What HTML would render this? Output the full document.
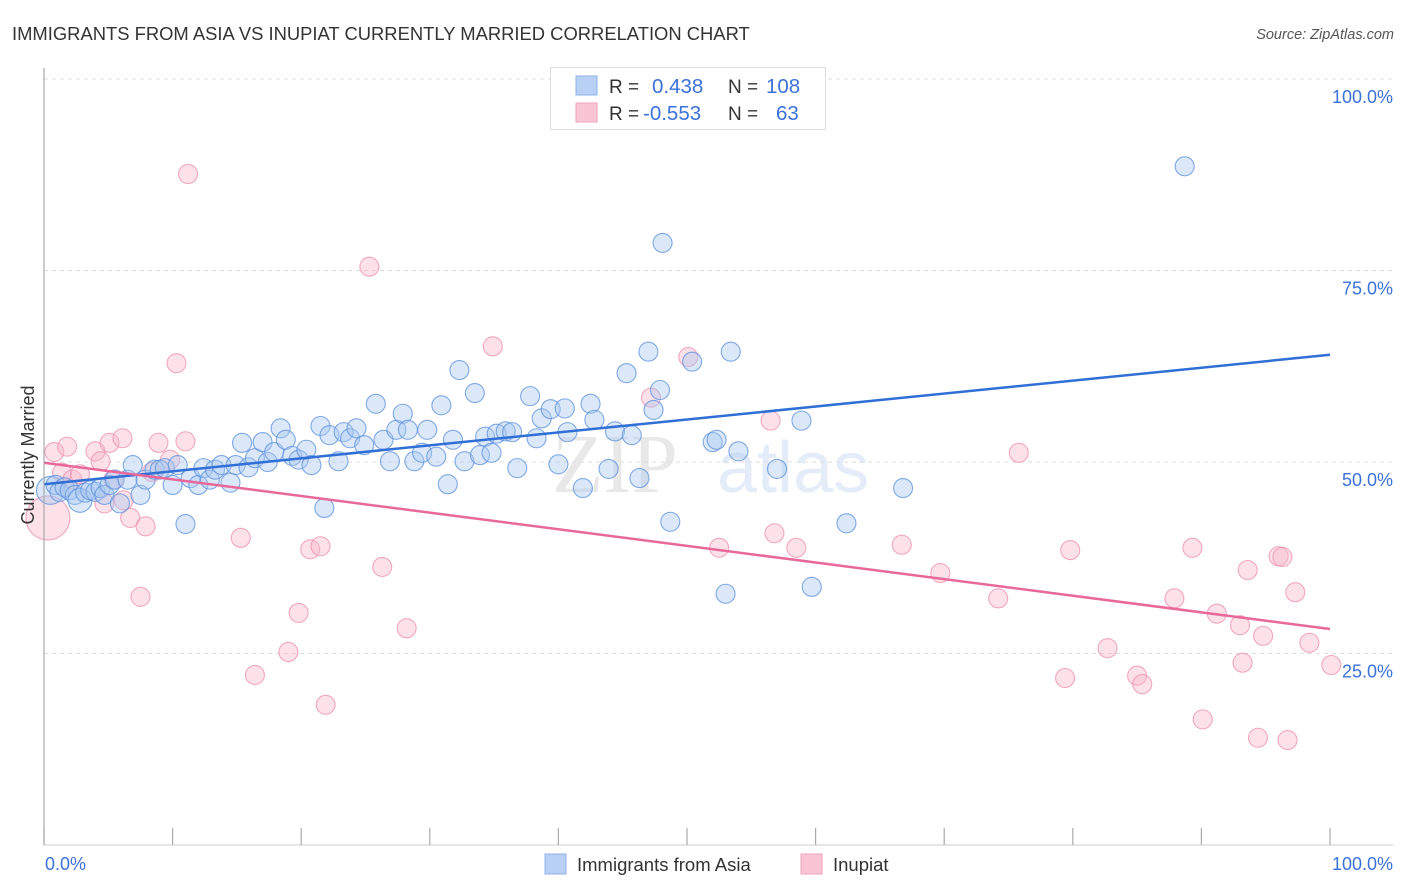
<!DOCTYPE html>
<html><head><meta charset="utf-8"><style>
body{margin:0;background:#fff;font-family:"Liberation Sans",sans-serif;}
svg{display:block}
</style></head><body>
<svg id="chart" width="1406" height="892" xmlns="http://www.w3.org/2000/svg">
<text x="12" y="40" font-size="18.4" fill="#333">IMMIGRANTS FROM ASIA VS INUPIAT CURRENTLY MARRIED CORRELATION CHART</text>
<text x="1394" y="39" font-size="14.5" fill="#555" font-style="italic" text-anchor="end">Source: ZipAtlas.com</text>
<g opacity="0.13"><text x="552" y="492" font-size="84" font-family="Liberation Serif,serif" fill="#555">ZIP</text><text x="717" y="492" font-size="72" fill="#3b72d9">atlas</text></g>
<g id="grid"></g>
<g id="marks"></g>
<g id="axes"></g>
<g>
<rect x="550.5" y="67.5" width="275" height="62" fill="#fff" stroke="#ddd"/>
<rect x="576" y="76" width="21" height="19" fill="#b8d0f4" stroke="#8fb1e8"/>
<rect x="576" y="103" width="21" height="19" fill="#f9c5d5" stroke="#eea3bb"/>
<g font-size="19">
<text x="609" y="93" fill="#333">R =</text><text x="652" y="93" fill="#3b72d9" font-size="20.5">0.438</text>
<text x="728" y="93" fill="#333">N =</text><text x="766" y="93" fill="#3b72d9" font-size="20.5">108</text>
<text x="609" y="120" fill="#333">R =</text><text x="643" y="120" fill="#3b72d9" font-size="20.5">-0.553</text>
<text x="728" y="120" fill="#333">N =</text><text x="776" y="120" fill="#3b72d9" font-size="20.5">63</text>
</g></g>
<g font-size="18.5" fill="#333">
<rect x="545" y="854" width="21" height="20" fill="#b8d0f4" stroke="#8fb1e8"/>
<text x="577" y="871">Immigrants from Asia</text>
<rect x="801" y="854" width="21" height="20" fill="#f9c5d5" stroke="#eea3bb"/>
<text x="833" y="871">Inupiat</text>
</g>
<text transform="translate(34,455) rotate(-90)" font-size="18" fill="#333" text-anchor="middle">Currently Married</text>
</svg>
<script>
const blueX=[.5,.9,1.2,1.6,2.0,2.4,2.8,3.2,3.6,4.0,4.4,4.7,5.1,5.5,5.9,6.5,6.9,7.5,7.9,8.6,9.0,9.4,10.0,10.4,11.0,11.4,12.0,12.4,12.9,13.3,13.8,14.5,14.9,15.4,15.9,16.4,17.0,17.4,17.9,18.4,18.8,19.3,19.8,20.4,20.8,21.5,21.8,22.2,22.9,23.3,23.8,24.3,24.9,25.8,26.4,26.9,27.4,27.9,28.3,28.8,29.4,29.8,30.5,30.9,31.4,31.8,32.3,32.7,33.5,33.9,34.3,34.8,35.2,35.9,36.4,36.8,37.8,38.3,38.7,39.4,40.0,40.5,40.7,41.9,42.5,42.8,43.9,44.4,45.3,45.7,46.3,47.0,47.4,47.9,48.1,48.7,50.4,52.0,52.3,53.0,53.4,54.0,57.0,58.9,59.7,62.4,66.8,88.7];
const blueY=[46.3,47.0,46.1,46.7,46.3,45.7,45.0,46.0,46.3,46.1,46.6,45.7,47.0,47.7,44.6,47.7,49.6,45.7,47.7,49.0,49.0,49.2,47.0,49.6,41.9,47.9,47.0,49.2,47.7,49.0,49.6,47.3,49.6,52.5,49.3,50.5,52.6,50.0,51.3,54.4,52.9,50.8,50.3,51.6,49.6,54.7,44.0,53.5,50.1,53.9,53.1,54.4,52.2,57.6,52.9,50.1,54.2,56.3,54.2,50.1,51.2,54.2,50.7,57.4,47.1,52.9,62.0,50.1,59.0,50.9,53.3,51.2,53.7,54.0,53.9,49.2,58.6,53.1,55.7,56.9,49.7,57.0,53.9,46.6,57.6,55.5,49.1,54.0,61.6,53.5,47.9,64.4,56.8,59.4,78.6,42.2,63.1,52.6,52.9,32.8,64.4,51.4,49.1,55.4,33.7,42.0,46.6,88.6];
const pinkX=[.3,.8,1.4,1.8,2.2,2.8,4.0,4.4,4.7,5.1,5.4,6.1,6.2,6.7,7.5,7.9,8.4,8.9,9.8,10.3,11.0,11.2,15.3,16.4,19.0,19.8,20.7,21.5,21.9,25.3,26.3,28.2,34.9,47.2,50.1,52.5,56.5,56.8,58.5,66.7,69.7,74.2,75.8,79.4,79.8,82.7,85.0,85.4,87.9,89.3,90.1,91.2,93.0,93.2,93.6,94.4,94.8,96.0,96.3,96.7,97.3,98.4,100.1];
const pinkY=[42.7,51.3,48.6,52.0,47.7,48.4,51.4,50.1,44.6,52.5,47.7,53.1,45.0,42.7,32.4,41.6,48.7,52.5,50.3,62.9,52.7,87.6,40.1,22.2,25.2,30.3,38.6,39.0,18.3,75.5,36.3,28.3,65.1,58.4,63.7,38.8,55.4,40.7,38.8,39.2,35.5,32.2,51.2,21.8,38.5,25.7,22.1,21.0,32.2,38.8,16.4,30.2,28.7,23.8,35.9,14.0,27.3,37.7,37.6,13.7,33.0,26.4,23.5];
const blueTrend=[47.1,64.0];
const pinkTrend=[49.9,28.2];
const yTicks=[25,50,75,100];
const xTicks=[0,10,20,30,40,50,60,70,80,90,100];

const NS="http://www.w3.org/2000/svg";
const X0=44,X1=1330,Y0=845,Y100=79;
function sx(v){return X0+(X1-X0)*v/100;}
function sy(v){return Y0-(Y0-Y100)*v/100;}
function mk(tag,attrs,parent){const e=document.createElementNS(NS,tag);for(const k in attrs)e.setAttribute(k,attrs[k]);parent.appendChild(e);return e;}
const grid=document.getElementById('grid'),marks=document.getElementById('marks'),axes=document.getElementById('axes');
yTicks.forEach(t=>{
  const l=mk('line',{x1:X0,x2:1393,y1:sy(t),y2:sy(t),stroke:'#ddd','stroke-dasharray':'4,4'},grid);
  
  
  const tx=mk('text',{x:1393,y:sy(t)+24,'text-anchor':'end','font-size':18,fill:'#3b72d9'},axes);
  tx.textContent=t.toFixed(1)+'%';
  
  
});
const al=mk('line',{x1:X0,x2:X0,y1:68,y2:Y0,stroke:'#aaa','stroke-width':1.2},axes);


const bl=mk('line',{x1:X0,x2:1393,y1:Y0,y2:Y0,stroke:'#ccc'},axes);


xTicks.forEach(t=>{
  const l=mk('line',{x1:sx(t),x2:sx(t),y1:Y0,y2:828,stroke:'#aaa','stroke-width':1.2},axes);
  
  
});
[[0,'start','0.0%',45],[100,'end','100.0%',1393]].forEach(a=>{
  const tx=mk('text',{x:a[3],y:870,'text-anchor':a[1],'font-size':18,fill:'#3b72d9'},axes);
  tx.textContent=a[2];
  
  
});
function dots(xs,ys,fill,stroke,name,big){
  xs.forEach((x,i)=>{
    const r=big[i]||9.5;
    const c=mk('circle',{cx:sx(x),cy:sy(ys[i]),r:r,fill:fill,'fill-opacity':0.42,stroke:stroke,'stroke-opacity':0.75,'stroke-width':1.1},marks);
    
    
  });
}
dots(pinkX,pinkY,'#f7b8cb','#ec8fad','inupiat',{0:22});
dots(blueX,blueY,'#a9c7f0','#5a8fdc','asia',{0:14,6:12});
const t1=mk('line',{x1:sx(0),x2:sx(100),y1:sy(blueTrend[0]),y2:sy(blueTrend[1]),stroke:'#2f6fd6','stroke-width':2.5},marks);


const t2=mk('line',{x1:sx(0),x2:sx(100),y1:sy(pinkTrend[0]),y2:sy(pinkTrend[1]),stroke:'#e8689a','stroke-width':2.5},marks);


</script>
</body></html>
